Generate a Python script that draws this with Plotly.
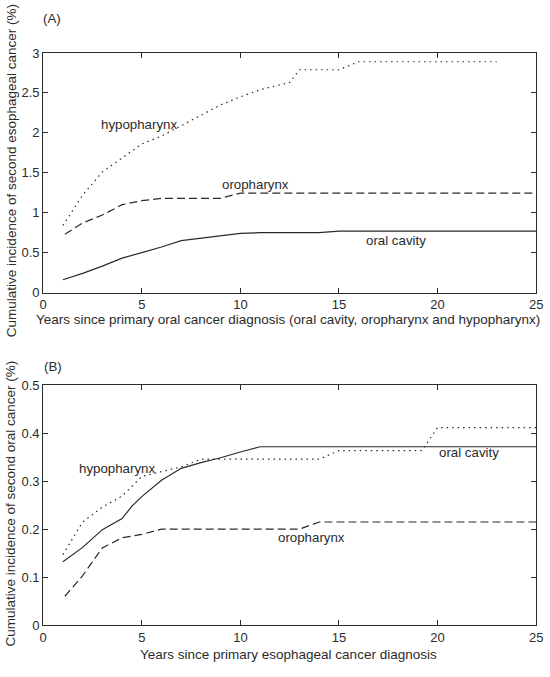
import plotly.graph_objects as go

# panel A: second esophageal cancer after primary oral cancer
a_oral_x = [1, 2, 3, 4, 5, 6, 7, 8, 9, 10, 11, 14, 15, 25]
a_oral_y = [0.16, 0.24, 0.33, 0.43, 0.50, 0.57, 0.65, 0.68, 0.715, 0.74, 0.75, 0.75, 0.77, 0.77]
a_oro_x = [1.1, 2, 3, 4, 5, 6, 9, 10, 25]
a_oro_y = [0.73, 0.87, 0.97, 1.10, 1.15, 1.18, 1.18, 1.245, 1.245]
a_hypo_x = [1, 2, 3, 4, 5, 6, 7, 8, 9, 10, 11, 12, 12.5, 13, 15, 16, 23]
a_hypo_y = [0.84, 1.22, 1.51, 1.69, 1.86, 1.96, 2.09, 2.22, 2.35, 2.45, 2.54, 2.60, 2.63, 2.79, 2.79, 2.89, 2.89]

# panel B: second oral cancer after primary esophageal cancer
b_oral_x = [1, 2, 3, 4, 4.5, 5, 6, 7, 8, 9, 10, 11, 25]
b_oral_y = [0.132, 0.162, 0.199, 0.222, 0.248, 0.268, 0.302, 0.327, 0.339, 0.349, 0.361, 0.372, 0.372]
b_oro_x = [1.1, 2, 3, 4, 5, 6, 13, 14, 25]
b_oro_y = [0.06, 0.103, 0.161, 0.182, 0.189, 0.200, 0.200, 0.215, 0.215]
b_hypo_x = [1, 2, 3, 4, 5, 6, 7, 8, 14, 15, 19.2, 20, 25]
b_hypo_y = [0.147, 0.215, 0.246, 0.269, 0.31, 0.32, 0.33, 0.346, 0.346, 0.364, 0.364, 0.412, 0.412]

ink = '#2b2b2b'
fnt = dict(family='Liberation Sans, Arial', size=13.3, color=ink)
dashes = {'solid': 'solid', 'dash': '8px,4px', 'dot': '1.5px,4px'}

fig = go.Figure()
for xs, ys, dash, ax in [
    (a_oral_x, a_oral_y, 'solid', 1), (a_oro_x, a_oro_y, 'dash', 1), (a_hypo_x, a_hypo_y, 'dot', 1),
    (b_oral_x, b_oral_y, 'solid', 2), (b_oro_x, b_oro_y, 'dash', 2), (b_hypo_x, b_hypo_y, 'dot', 2),
]:
    fig.add_trace(go.Scatter(x=xs, y=ys, mode='lines', showlegend=False,
                             line=dict(color=ink, width=1.2, dash=dashes[dash]),
                             xaxis='x' if ax == 1 else 'x2', yaxis='y' if ax == 1 else 'y2'))

axis_style = dict(showline=True, linecolor=ink, linewidth=1, mirror='ticks', ticks='inside',
                  ticklen=5, tickcolor=ink, showgrid=False, zeroline=False,
                  tickfont=dict(fnt, size=13), ticklabeloverflow='allow')

fig.update_layout(
    width=550, height=677, margin=dict(l=0, r=0, t=0, b=0),
    paper_bgcolor='white', plot_bgcolor='white', font=fnt,
    xaxis=dict(domain=[40 / 550, 543 / 550], range=[0, 25], dtick=5, anchor='y', **axis_style),
    yaxis=dict(domain=[1 - 292 / 677, 1 - 47 / 677], range=[0, 3], dtick=0.5, anchor='x', **axis_style),
    xaxis2=dict(domain=[40 / 550, 543 / 550], range=[0, 25], dtick=5, anchor='y2', **axis_style),
    yaxis2=dict(domain=[1 - 632 / 677, 1 - 387 / 677], range=[0, 0.5], dtick=0.1, anchor='x2', **axis_style),
)

def label(text, x, y, xref, yref, size=13.3, **kw):
    fig.add_annotation(text=text, x=x, y=y, xref=xref, yref=yref, showarrow=False,
                       font=dict(fnt, size=size),
                       xanchor=kw.pop('xanchor', 'center'), yanchor='middle', **kw)

label('(A)', 38 / 550, 1 - 12 / 677, 'paper', 'paper', xanchor='left')
label('(B)', 39 / 550, 1 - 368 / 677, 'paper', 'paper', xanchor='left')
label('Years since primary oral cancer diagnosis (oral cavity, oropharynx and hypopharynx)',
      290 / 550, 1 - 320 / 677, 'paper', 'paper', size=13.5)
label('Years since primary esophageal cancer diagnosis', 290 / 550, 1 - 662 / 677, 'paper', 'paper',
      size=13.5)
label('Cumulative incidence of second esophageal cancer (%)', 7 / 550, 1 - 167 / 677, 'paper', 'paper',
      size=13.5, textangle=-90)
label('Cumulative incidence of second oral cancer (%)', 7 / 550, 1 - 508 / 677, 'paper', 'paper',
      size=13.5, textangle=-90)

label('hypopharynx', 4.85, 2.11, 'x', 'y')
label('oropharynx', 10.75, 1.355, 'x', 'y')
label('oral cavity', 17.9, 0.655, 'x', 'y')
label('hypopharynx', 3.75, 0.327, 'x2', 'y2')
label('oral cavity', 21.6, 0.359, 'x2', 'y2')
label('oropharynx', 13.6, 0.183, 'x2', 'y2')

# the page body has a default 8px margin; drop it so the figure sits at the window corner
fig.write_html('out.html', config={'displayModeBar': False},
               post_script="document.body.style.margin='0px';")
